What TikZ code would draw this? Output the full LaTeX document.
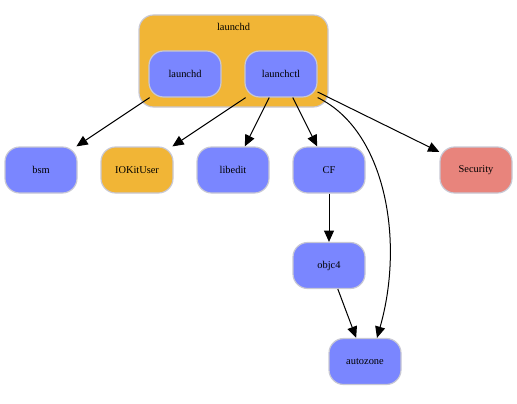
\documentclass[tikz,border=0pt]{standalone}
\usepackage{fontspec}
\setmainfont{Liberation Serif}
\usetikzlibrary{arrows.meta}

\definecolor{nodeblue}{RGB}{122,134,255}
\definecolor{grporange}{RGB}{241,181,54}
\definecolor{secred}{RGB}{232,132,124}
\definecolor{rimgray}{RGB}{200,200,212}

\tikzset{
  lib/.style={draw=rimgray, line width=0.9pt, fill=nodeblue, rounded corners=11pt,
    minimum width=54pt, minimum height=34.5pt, inner sep=0pt,
    font=\fontsize{7.8}{9}\selectfont},
  dep/.style={-{Triangle[length=8.5pt,width=7.5pt]}, line width=0.75pt, black}
}

\begin{document}
\begin{tikzpicture}[x=0.75pt,y=0.75pt,yscale=-1,xscale=1]
\useasboundingbox (0,0) rectangle (517,403);

%Cluster [launchd]
\draw [draw=rimgray, line width=0.9pt, fill=grporange, rounded corners=11pt] (139,15) rectangle (328,107) ;
\node (grplabel) at (233.5,27) [font=\fontsize{7.8}{9}\selectfont] {launchd};

%Nodes inside cluster
\node [lib] (launchd) at (185,74) {launchd};
\node [lib] (launchctl) at (281,74) {launchctl};

%Row of libraries
\node [lib] (bsm) at (41,170) {bsm};
\node [lib, fill=grporange] (iokituser) at (137,170) {IOKitUser};
\node [lib] (libedit) at (233,170) {libedit};
\node [lib] (cf) at (329,170) {CF};
\node [lib, fill=secred] (security) at (476,170) {Security};

%Lower nodes
\node [lib] (objc) at (329,265.5) {objc4};
\node [lib] (autozone) at (365,361.5) {autozone};

%Edges
\draw [dep] (launchd) -- (bsm) ;
\draw [dep] (launchctl) -- (iokituser) ;
\draw [dep] (launchctl) -- (libedit) ;
\draw [dep] (launchctl) -- (cf) ;
\draw [dep] (launchctl) -- (security) ;
\draw [dep] (launchctl.south east) .. controls (385,130) and (405,240) .. ([xshift=9pt]autozone.north) ;
\draw [dep] (cf) -- (objc) ;
\draw [dep] (objc) -- (autozone) ;

\end{tikzpicture}
\end{document}
